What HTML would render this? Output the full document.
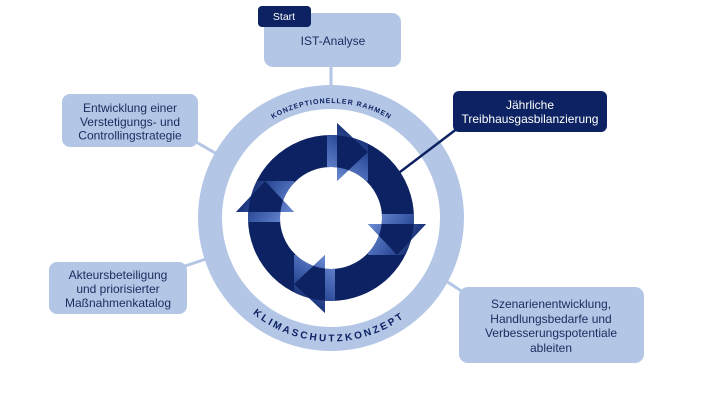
<!DOCTYPE html>
<html>
<head>
<meta charset="utf-8">
<style>
html,body{margin:0;padding:0;background:#fff;}
svg{display:block;}
text{font-family:"Liberation Sans",Arial,sans-serif;}
</style>
</head>
<body>
<svg width="720" height="405" viewBox="0 0 720 405" xmlns="http://www.w3.org/2000/svg">
<defs>
  <clipPath id="cl">
    <path clip-rule="evenodd" d="M0,-83 A83,83 0 1 1 0,83 A83,83 0 1 1 0,-83 Z M0,-51 A51,51 0 1 0 0,51 A51,51 0 1 0 0,-51 Z"/>
    <polygon points="6,-95 6,-37 37,-66"/>
  </clipPath>
  <linearGradient id="g" gradientUnits="userSpaceOnUse" x1="0" y1="-45" x2="30" y2="-90">
    <stop offset="0" stop-color="#6585ce"/>
    <stop offset="0.5" stop-color="#3756a4"/>
    <stop offset="1" stop-color="#0c2262"/>
  </linearGradient>
  <path id="topArc" d="M216,218 A115,115 0 0 1 446,218"/>
  <path id="botArc" d="M207.5,218 A123.5,123.5 0 0 0 454.5,218"/>
</defs>

<rect width="720" height="405" fill="#fff"/>

<!-- light connectors -->
<g stroke="#b4c6e6" stroke-width="3" fill="none">
  <line x1="331" y1="64" x2="331" y2="90"/>
  <line x1="196" y1="142" x2="224" y2="158"/>
  <line x1="185" y1="266" x2="212" y2="257"/>
  <line x1="443" y1="279" x2="466" y2="294"/>
</g>

<!-- light ring -->
<circle cx="331" cy="218" r="121" fill="none" stroke="#b4c6e6" stroke-width="24"/>

<!-- navy connector -->
<line x1="458" y1="128" x2="400" y2="172" stroke="#0c2262" stroke-width="2.5"/>

<!-- dark ring -->
<circle cx="331" cy="218" r="67" fill="none" stroke="#0c2262" stroke-width="32"/>

<!-- arrows -->
<g transform="translate(331,218)">
  <g>
    <polygon points="6,-95 6,-37 37,-66" fill="#0c2262"/>
    <rect x="-4" y="-95" width="41" height="58" fill="url(#g)" clip-path="url(#cl)"/>
  </g>
  <g transform="rotate(90)">
    <polygon points="6,-95 6,-37 37,-66" fill="#0c2262"/>
    <rect x="-4" y="-95" width="41" height="58" fill="url(#g)" clip-path="url(#cl)"/>
  </g>
  <g transform="rotate(180)">
    <polygon points="6,-95 6,-37 37,-66" fill="#0c2262"/>
    <rect x="-4" y="-95" width="41" height="58" fill="url(#g)" clip-path="url(#cl)"/>
  </g>
  <g transform="rotate(270)">
    <polygon points="6,-95 6,-37 37,-66" fill="#0c2262"/>
    <rect x="-4" y="-95" width="41" height="58" fill="url(#g)" clip-path="url(#cl)"/>
  </g>
</g>

<!-- curved texts -->
<text font-size="7" font-weight="bold" fill="#0c2262">
  <textPath href="#topArc" startOffset="50%" text-anchor="middle" textLength="122">KONZEPTIONELLER RAHMEN</textPath>
</text>
<text font-size="10" font-weight="bold" fill="#0c2262">
  <textPath href="#botArc" startOffset="49%" text-anchor="middle" textLength="162">KLIMASCHUTZKONZEPT</textPath>
</text>

<!-- IST-Analyse -->
<rect x="264" y="13" width="137" height="54" rx="9" fill="#b4c6e6"/>
<rect x="258" y="6" width="53" height="21" rx="4" fill="#0c2262"/>
<text x="284" y="20" font-size="10.5" fill="#fff" text-anchor="middle">Start</text>
<text x="333" y="45" font-size="12" fill="#1a2c5e" text-anchor="middle">IST-Analyse</text>

<!-- Entwicklung -->
<rect x="62" y="94" width="136" height="53" rx="8" fill="#b4c6e6"/>
<g font-size="12" fill="#1a2c5e" text-anchor="middle">
  <text x="130" y="112">Entwicklung einer</text>
  <text x="130" y="126">Verstetigungs- und</text>
  <text x="130" y="139.5">Controllingstrategie</text>
</g>

<!-- Jährliche -->
<rect x="453" y="91" width="154" height="41" rx="6" fill="#0c2262"/>
<g font-size="12" fill="#fff" text-anchor="middle">
  <text x="530" y="109">Jährliche</text>
  <text x="530" y="123">Treibhausgasbilanzierung</text>
</g>

<!-- Akteurs -->
<rect x="49" y="262" width="138" height="52" rx="8" fill="#b4c6e6"/>
<g font-size="12" fill="#1a2c5e" text-anchor="middle">
  <text x="118" y="279">Akteursbeteiligung</text>
  <text x="118" y="293">und priorisierter</text>
  <text x="118" y="307">Maßnahmenkatalog</text>
</g>

<!-- Szenarien -->
<rect x="459" y="287" width="185" height="76" rx="9" fill="#b4c6e6"/>
<g font-size="12" fill="#1a2c5e" text-anchor="middle">
  <text x="551" y="308">Szenarienentwicklung,</text>
  <text x="551" y="323">Handlungsbedarfe und</text>
  <text x="551" y="337">Verbesserungspotentiale</text>
  <text x="551" y="352">ableiten</text>
</g>
</svg>
</body>
</html>
